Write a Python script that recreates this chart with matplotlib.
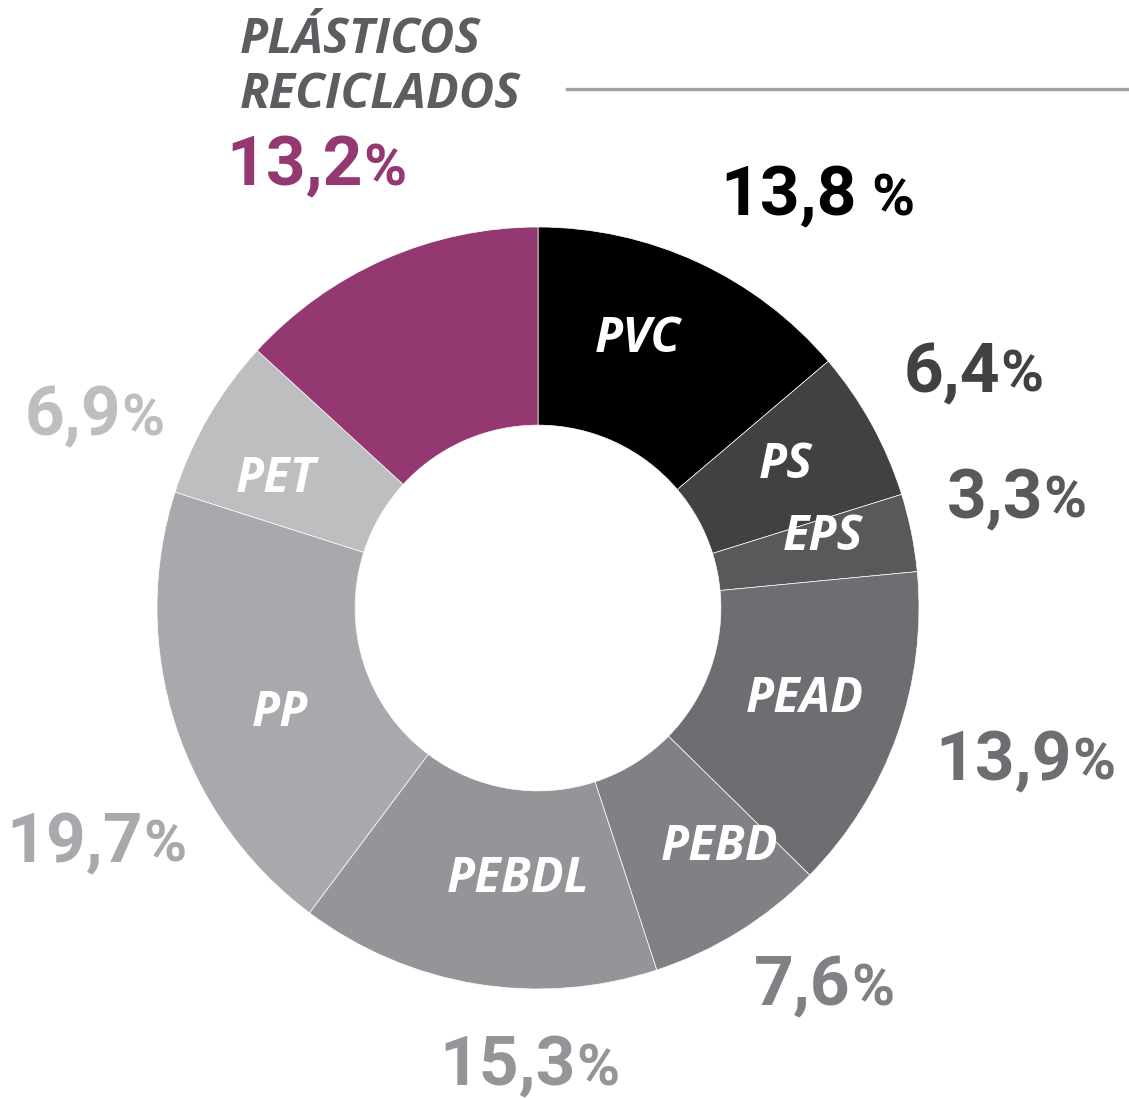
import matplotlib.pyplot as plt

W, H = 1129, 1098

# data (clockwise from the top)
labels = ["PVC", "PS", "EPS", "PEAD", "PEBD", "PEBDL", "PP", "PET", ""]
values = [13.8, 6.4, 3.3, 13.9, 7.6, 15.3, 19.7, 6.9, 13.2]
colors = ["#000000", "#414143", "#58595b", "#6d6e71", "#808184",
          "#939598", "#a7a9ac", "#bcbec0", "#933870"]
pct_colors = ["#000000", "#414143", "#58595b", "#6d6e71", "#808184",
              "#939598", "#a7a9ac", "#bcbec0", "#933870"]

# label positions in pixels
label_pos = [(638, 340), (786, 466), (823, 538), (805, 700), (720, 847),
             (518, 880), (280, 713), (276, 480), None]
# (x where number ends / % starts, baseline y)
pct_pos = [(857, 215), (1000, 392), (1043, 518), (1072, 780), (851, 1005),
           (576, 1085), (143, 862), (121, 435), (363, 185)]

fig = plt.figure(figsize=(W / 100, H / 100), dpi=100)


def fx(x):
    return x / W


def fy(y):
    return 1 - y / H


cx, cy, r = 538, 608, 381
ax = fig.add_axes([fx(cx - r), fy(cy + r), 2 * r / W, 2 * r / H])
ax.pie(values, colors=colors, startangle=90, counterclock=False,
       radius=1, wedgeprops=dict(width=0.52, edgecolor="white", linewidth=0.5))
ax.set_xlim(-1, 1)
ax.set_ylim(-1, 1)
ax.axis("off")

lab_font = dict(family="Open Sans", weight="bold", style="italic")
num_font = dict(family="Roboto", weight="bold")

for lab, pos in zip(labels, label_pos):
    if pos is None:
        continue
    fig.text(fx(pos[0]), fy(pos[1]), lab, color="white", fontsize=35,
             ha="center", va="center", **lab_font)

for i, (v, pos) in enumerate(zip(values, pct_pos)):
    num = f"{v:.1f}".replace(".", ",")
    fig.text(fx(pos[0]), fy(pos[1]), num, color=pct_colors[i], fontsize=50,
             ha="right", va="baseline", **num_font)
    px = pos[0] + (14 if i == 0 else 0)
    fig.text(fx(px), fy(pos[1]), "%", color=pct_colors[i], fontsize=42,
             ha="left", va="baseline", **num_font)

# title
fig.text(fx(240), fy(53), "PLÁSTICOS", color="#5c5d60", fontsize=35,
         ha="left", va="baseline", **lab_font)
fig.text(fx(240), fy(108), "RECICLADOS", color="#5c5d60", fontsize=35,
         ha="left", va="baseline", **lab_font)
fig.add_artist(plt.Line2D([fx(567), fx(1129)], [fy(89), fy(89)],
                          color="#a0a0a2", linewidth=2.4))

fig.savefig("out.png", dpi=100)
